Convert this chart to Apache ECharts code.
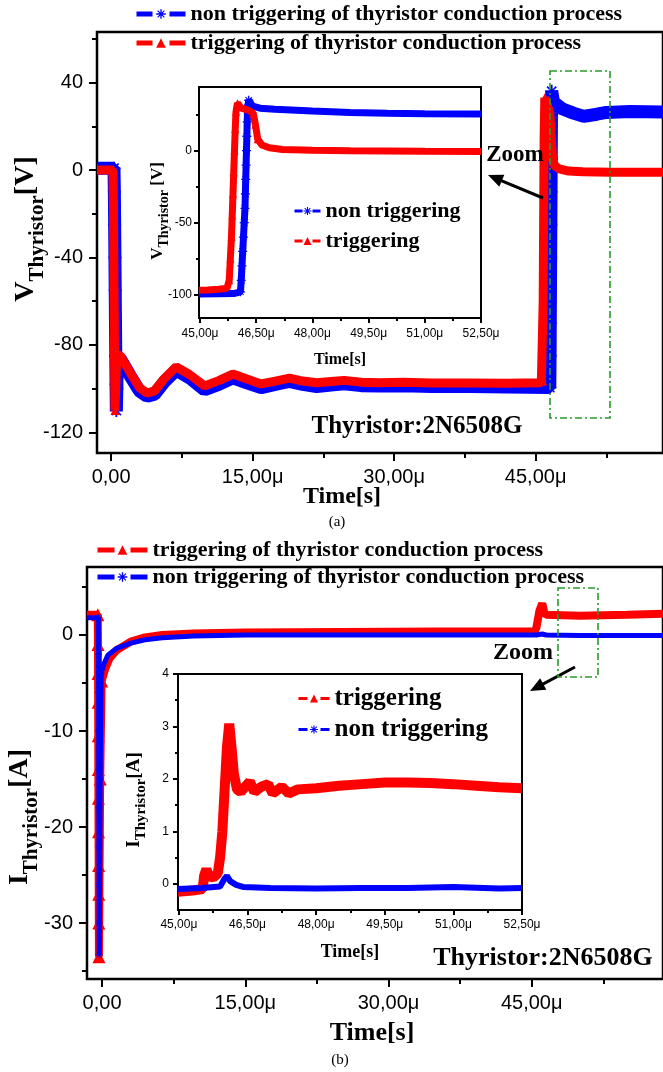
<!DOCTYPE html>
<html><head><meta charset="utf-8">
<script src="https://cdn.jsdelivr.net/npm/echarts@6/dist/echarts.min.js"></script>
<style>html,body{margin:0;padding:0;background:#fff}#c{width:663px;height:1072px}</style>
</head><body><div id="c"></div>
<script>
// ---------- DATA (time in µs) ----------
const nameNonTrigLong = 'non triggering of thyristor conduction process';
const nameTrigLong = 'triggering of thyristor conduction process';
const nameNonTrig = 'non triggering';
const nameTrig = 'triggering';

// Panel (a) main: thyristor voltage [V]
const mainVNonTrig = [[-1.5,0.8],[0.3,0.8],[0.34,-10],[0.37,-25],[0.4,-40],[0.43,-55],[0.46,-70],[0.49,-85],[0.52,-98],[0.55,-110],[0.6,-100],[0.65,-86],[1.0,-86.5],[2.0,-94],[3.0,-101],[3.8,-103.5],[4.6,-102.5],[5.6,-97],[6.9,-91.5],[8.3,-95],[9.9,-100.5],[11.4,-98],[12.9,-95],[14.4,-97.3],[15.9,-99.5],[17.4,-98],[18.9,-96.7],[20.3,-98],[21.8,-99],[23.3,-98.3],[24.7,-97.8],[26.5,-98.6],[28.5,-98.8],[31,-98.6],[34,-99],[38,-99],[42,-99.2],[46.5,-99.5],[46.53,-85],[46.55,-70],[46.57,-55],[46.59,-40],[46.61,-25],[46.63,-10],[46.65,5],[46.67,20],[46.7,36],[46.9,31],[47.8,28],[49,26],[50.1,24.5],[51.5,25.5],[52.5,26.3],[55,26.7],[58.5,26.5]];
const mainVTrig = [[-1.5,0],[0.2,0],[0.25,-20],[0.3,-50],[0.35,-80],[0.4,-110],[0.5,-97],[0.6,-84.5],[1.0,-85],[2.0,-92.5],[3.0,-99.5],[3.8,-102],[4.6,-101],[5.6,-95.5],[6.9,-90],[8.3,-93.5],[9.9,-98.7],[11.4,-96.3],[12.9,-93.3],[14.4,-95.6],[15.9,-97.8],[17.4,-96.5],[18.9,-95.2],[20.3,-96.5],[21.8,-97.3],[23.3,-96.7],[24.7,-96.2],[26.5,-97],[28.5,-97.3],[31,-97.1],[34,-97.4],[38,-97.4],[42,-97.5],[45.6,-97.3],[45.75,-96.5],[45.8,-60],[45.85,-20],[45.9,15],[45.97,33],[46.2,30],[46.5,26],[46.65,15],[46.8,5],[47.0,2],[47.5,0.5],[48.5,-0.5],[50,-0.8],[53,-1],[58.5,-1]];

// Panel (a) inset
const insetVNonTrig = [[44.97,-99.5],[45.5,-99.4],[45.9,-99.2],[46.08,-98],[46.1,-90],[46.12,-80],[46.14,-70],[46.16,-60],[46.18,-50],[46.2,-40],[46.21,-30],[46.22,-20],[46.23,-10],[46.24,0],[46.25,10],[46.26,20],[46.27,30],[46.3,35],[46.4,31],[46.6,29.5],[47,28.7],[48,27.5],[49,26.5],[50,26],[51,25.7],[52.5,25.5]];
const insetVTrig = [[44.97,-97],[45.2,-96.8],[45.5,-96.2],[45.72,-95.5],[45.78,-90],[45.81,-75],[45.84,-60],[45.86,-45],[45.88,-30],[45.9,-15],[45.92,0],[45.94,15],[45.96,27],[46.0,33],[46.1,29.5],[46.3,28],[46.42,26],[46.48,18],[46.54,8],[46.65,4],[46.85,2],[47.2,0.8],[48,0.2],[49,-0.1],[50,-0.3],[51,-0.5],[52.5,-0.6]];

// Panel (b) main: thyristor current [A]
const mainITrig = [[-1.6,2.1],[-0.45,2.1],[-0.43,-1],[-0.42,-4],[-0.41,-7],[-0.4,-10.5],[-0.39,-14],[-0.38,-17],[-0.37,-20.5],[-0.36,-24],[-0.35,-27],[-0.34,-30],[-0.33,-33.5],[-0.2,-15],[-0.05,-4.8],[0.3,-3.6],[0.8,-2.4],[1.5,-1.6],[3,-0.7],[4.5,-0.25],[6.3,0],[9.6,0.15],[15,0.25],[25,0.3],[35,0.35],[45.3,0.35],[45.5,0.8],[45.8,2.5],[46.1,3.3],[46.3,2.4],[46.5,2.1],[50,2.0],[55,2.1],[58.75,2.2]];
const mainINonTrig = [[-1.6,1.8],[-0.4,1.8],[-0.38,-2],[-0.37,-6],[-0.36,-10],[-0.35,-14],[-0.34,-18],[-0.33,-22],[-0.32,-26],[-0.31,-30],[-0.3,-33.3],[-0.2,-15],[-0.1,-4],[0.2,-3],[0.6,-2.1],[1.5,-1.4],[3,-0.85],[4.5,-0.5],[6.3,-0.3],[9.6,-0.1],[15,0],[25,0],[35,0],[45.5,0],[46.1,0.1],[46.5,0],[50,-0.05],[58.75,-0.05]];

// Panel (b) inset
const insetITrig = [[44.98,-0.15],[45.3,-0.13],[45.52,-0.1],[45.55,0.15],[45.6,0.28],[45.65,0.15],[45.75,0.12],[45.85,0.2],[45.9,0.5],[45.95,1.0],[46.0,1.8],[46.05,2.6],[46.1,3.05],[46.15,2.6],[46.2,2.1],[46.27,1.8],[46.35,1.75],[46.45,1.85],[46.55,1.95],[46.65,1.75],[46.8,1.85],[46.95,1.9],[47.05,1.72],[47.25,1.85],[47.4,1.72],[47.6,1.8],[48,1.82],[48.5,1.87],[49,1.9],[49.5,1.93],[50,1.93],[50.5,1.92],[51,1.9],[51.5,1.87],[52,1.84],[52.5,1.82]];
const insetINonTrig = [[44.98,-0.1],[45.5,-0.08],[45.9,-0.05],[46.0,0.1],[46.05,0.15],[46.12,0.05],[46.25,-0.02],[46.4,-0.06],[47,-0.08],[48,-0.09],[49,-0.08],[50,-0.08],[51,-0.06],[52,-0.09],[52.5,-0.08]];

// Tick values
const mainTimeTicks = [0, 15, 30, 45];
const mainTimeMinor = [7.5, 22.5, 37.5, 52.5];
const insetTimeTicks = [45, 46.5, 48, 49.5, 51, 52.5];
const insetTimeMinor = [45.75, 47.25, 48.75, 50.25, 51.75];
const mainVTicks = [-120, -80, -40, 0, 40];
const mainVMinor = [-100, -60, -20, 20, 60];
const insetVTicks = [-100, -50, 0];
const insetVMinor = [-75, -25, 25];
const mainITicks = [-30, -20, -10, 0];
const mainIMinor = [-35, -25, -15, -5, 5];
const insetITicks = [0, 1, 2, 3, 4];
const insetIMinor = [0.5, 1.5, 2.5, 3.5];

// ---------- STYLE ----------
const BLUE = '#0000ff', RED = '#ff0000', GREEN = '#2a9a2a';
const SERIF = 'Liberation Serif', SANS = 'Liberation Sans';
const STAR = 'path://M-0.7,-5L0.7,-5L0.7,5L-0.7,5Z M-5,-0.7L5,-0.7L5,0.7L-5,0.7Z M-3.96,-3.11L-3.11,-3.96L3.96,3.11L3.11,3.96Z M3.11,-3.96L3.96,-3.11L-3.11,3.96L-3.96,3.11Z';

function fmtTime(v) { return v === 0 ? '0,00' : v.toFixed(2).replace('.', ',') + 'μ'; }
function fmtNum(v) { return String(v).replace('.', ','); }

const grids = [
  {left: 97, top: 32, width: 600, height: 421},   // (a) main
  {left: 199, top: 87, width: 282, height: 231},  // (a) inset
  {left: 87, top: 567, width: 610, height: 412},  // (b) main
  {left: 178, top: 674, width: 344, height: 236}  // (b) inset
].map(g => Object.assign({show: true, borderColor: '#000', borderWidth: 2.5, backgroundColor: 'rgba(255,255,255,0)'}, g));
grids[1].borderWidth = 2; grids[3].borderWidth = 2;

const xAxes = [], yAxes = [];
function addAxes(list, gi, pos, min, max, majors, minors, fmt, fs, margin, lenMaj, lenMin) {
  const base = {gridIndex: gi, type: 'value', min, max, position: pos, offset: 0,
    axisLine: {show: false, onZero: false}, splitLine: {show: false}};
  list.push(Object.assign({}, base, {
    axisTick: {show: true, inside: false, length: lenMaj, customValues: majors, lineStyle: {color: '#000', width: 2}},
    axisLabel: {show: true, customValues: majors, formatter: fmt, fontSize: fs, fontFamily: SANS, color: '#000', margin}
  }));
  list.push(Object.assign({}, base, {
    axisTick: {show: true, inside: false, length: lenMin, customValues: minors, lineStyle: {color: '#000', width: 2}},
    axisLabel: {show: false}
  }));
}
addAxes(xAxes, 0, 'bottom', -1.5, 58.5, mainTimeTicks, mainTimeMinor, fmtTime, 20, 14, 8, 5);
addAxes(yAxes, 0, 'left', -129.4, 63.1, mainVTicks, mainVMinor, fmtNum, 20, 14, 8, 5);
addAxes(xAxes, 1, 'bottom', 44.973, 52.5, insetTimeTicks, insetTimeMinor, fmtTime, 12, 10, 5, 3);
addAxes(yAxes, 1, 'left', -116.2, 44.2, insetVTicks, insetVMinor, fmtNum, 12, 7, 5, 3);
addAxes(xAxes, 2, 'bottom', -1.58, 58.75, mainTimeTicks, mainTimeMinor, fmtTime, 20, 14, 8, 5);
addAxes(yAxes, 2, 'left', -35.83, 7.08, mainITicks, mainIMinor, fmtNum, 20, 14, 8, 5);
addAxes(xAxes, 3, 'bottom', 44.98, 52.5, insetTimeTicks, insetTimeMinor, fmtTime, 12, 9, 5, 3);
addAxes(yAxes, 3, 'left', -0.5, 4, insetITicks, insetIMinor, fmtNum, 12, 9, 5, 3);

// markers are shown only on the steep (fast-switching) samples, as in the measured traces
function steepSize(data, size, thresh) {
  return function (val, params) {
    const i = params.dataIndex;
    let s = 0;
    if (i > 0) s = Math.max(s, Math.abs((data[i][1] - data[i-1][1]) / (data[i][0] - data[i-1][0])));
    if (i < data.length - 1) s = Math.max(s, Math.abs((data[i+1][1] - data[i][1]) / (data[i+1][0] - data[i][0])));
    return s > thresh ? size : 0;
  };
}
function lineSeries(name, data, gi, color, width, symbol, size, thresh, z) {
  return {name, type: 'line', data, xAxisIndex: gi * 2, yAxisIndex: gi * 2, z,
    symbol, symbolSize: steepSize(data, size, thresh), showSymbol: true, clip: true, animation: false,
    lineStyle: {color, width}, itemStyle: {color}, emphasis: {disabled: true}};
}
const series = [
  lineSeries(nameNonTrigLong, mainVNonTrig, 0, BLUE, 13, STAR, 13, 100, 2),
  lineSeries(nameTrigLong, mainVTrig, 0, RED, 9, 'triangle', 9, 100, 3),
  lineSeries(nameNonTrig, insetVNonTrig, 1, BLUE, 7, STAR, 9, 100, 4),
  lineSeries(nameTrig, insetVTrig, 1, RED, 7, 'triangle', 8, 100, 5),
  lineSeries(nameTrigLong, mainITrig, 2, RED, 8, 'triangle', 13, 50, 2),
  lineSeries(nameNonTrigLong, mainINonTrig, 2, BLUE, 5, STAR, 7, 50, 3),
  lineSeries(nameTrig, insetITrig, 3, RED, 10, 'triangle', 6, 1000, 4),
  lineSeries(nameNonTrig, insetINonTrig, 3, BLUE, 6, STAR, 6, 1000, 5)
];

function legend(names, left, top, itemW, itemH, fs, gap, lw, dash) {
  return {show: true, orient: 'vertical', left, top, data: names, itemWidth: itemW, itemHeight: itemH,
    itemGap: gap, selectedMode: false, padding: 0,
    lineStyle: {width: lw, type: dash},
    textStyle: {fontFamily: SERIF, fontWeight: 'bold', fontSize: fs, color: '#000', lineHeight: fs}};
}
const legends = [
  legend([nameNonTrigLong, nameTrigLong], 134, 3, 49, 12, 22, 7, 5, [16, 17]),
  legend([nameNonTrig, nameTrig], 293, 200, 26, 10, 22, 8, 3, [8, 10]),
  legend([nameTrigLong, nameNonTrigLong], 95, 539, 50, 12, 22, 5, 5, [17, 16]),
  legend([nameTrig, nameNonTrig], 297, 686, 31, 10, 25, 6, 3, [9, 13])
];

function txt(x, y, text, fs, bold) {
  return {type: 'text', x, y, z: 100,
    style: {text, fontSize: fs, fontWeight: bold ? 'bold' : 'normal', fontFamily: SERIF, fill: '#000', align: 'center', verticalAlign: 'middle'}};
}
function richLabel(x, y, main, sub, tail, fb, fs) {
  return {type: 'text', x, y, rotation: Math.PI / 2, z: 100,
    style: {text: '{b|' + main + '}{s|' + sub + '}{b|' + tail + '}', align: 'center', verticalAlign: 'middle',
      rich: {
        b: {fontSize: fb, fontWeight: 'bold', fontFamily: SERIF, fill: '#000', verticalAlign: 'top', padding: [0, 0, Math.round(fb * 0.28), 0]},
        s: {fontSize: fs, fontWeight: 'bold', fontFamily: SERIF, fill: '#000', verticalAlign: 'bottom'}
      }}};
}
function arrow(x1, y1, tx, ty) {
  const dx = tx - x1, dy = ty - y1, L = Math.hypot(dx, dy), ux = dx / L, uy = dy / L;
  const hl = 15, hw = 6.5;
  const bx = tx - ux * hl, by = ty - uy * hl, nx = -uy * hw, ny = ux * hw;
  return [
    {type: 'line', z: 100, shape: {x1, y1, x2: bx + ux * 2, y2: by + uy * 2}, style: {stroke: '#000', lineWidth: 3}},
    {type: 'polygon', z: 100, shape: {points: [[tx, ty], [bx + nx, by + ny], [bx - nx, by - ny]]}, style: {fill: '#000'}}
  ];
}
function zoomBox(x, y, w, h) {
  return {type: 'rect', z: 100, shape: {x, y, width: w, height: h},
    style: {fill: null, stroke: GREEN, lineWidth: 1.6, lineDash: [7, 3, 2, 3]}};
}

const graphics = [
  richLabel(30, 229, 'V', 'Thyristor', '[V]', 28, 21),
  txt(342, 497, 'Time[s]', 24, true),
  txt(337, 522, '(a)', 15, false),
  txt(417, 427, 'Thyristor:2N6508G', 25, true),
  richLabel(160, 211, 'V', 'Thyristor', ' [V]', 17, 14),
  txt(340, 360, 'Time[s]', 16, true),
  txt(515, 155, 'Zoom', 23, true),
  ...arrow(543, 198, 488, 175),
  zoomBox(550, 71, 60, 347),
  richLabel(24, 817, 'I', 'Thyristor', '[A]', 28, 21),
  txt(372, 1033, 'Time[s]', 26, true),
  txt(340, 1060, '(b)', 15, false),
  txt(543, 958, 'Thyristor:2N6508G', 26, true),
  richLabel(137, 800, 'I', 'Thyristor', '[A]', 19, 15),
  txt(350, 952, 'Time[s]', 18, true),
  txt(523, 653, 'Zoom', 24, true),
  ...arrow(575, 667, 530, 691),
  zoomBox(558, 588, 40, 89)
];

const chart = echarts.init(document.getElementById('c'), null, {renderer: 'canvas'});
chart.setOption({
  backgroundColor: '#fff',
  animation: false,
  grid: grids,
  xAxis: xAxes,
  yAxis: yAxes,
  legend: legends,
  series,
  graphic: graphics
});
</script></body></html>
